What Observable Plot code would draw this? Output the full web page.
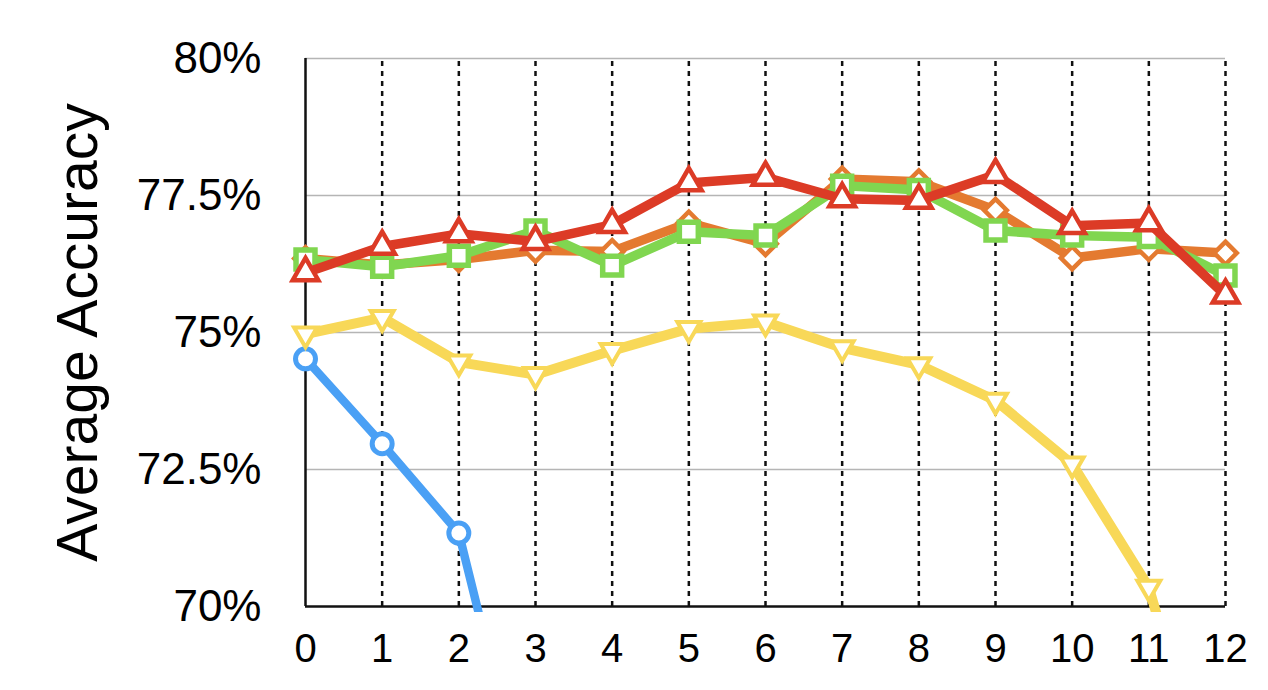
<!DOCTYPE html>
<html>
<head>
<meta charset="utf-8">
<script src="https://cdn.jsdelivr.net/npm/d3@7"></script>
<script src="https://cdn.jsdelivr.net/npm/@observablehq/plot@0.6"></script>
<style>
  html, body { margin: 0; padding: 0; background: #fff; }
  #chart { width: 1268px; height: 690px; }
</style>
</head>
<body>
<div id="chart"></div>
<script>
const steps = [0, 1, 2, 3, 4, 5, 6, 7, 8, 9, 10, 11, 12];
const blueValues = [74.52, 72.97, 71.34, 65.7];
const yellowValues = [74.97, 75.27, 74.46, 74.23, 74.67, 75.07, 75.19, 74.72, 74.41, 73.76, 72.6, 70.35, 65.5];
const orangeValues = [76.35, 76.23, 76.33, 76.5, 76.48, 77.0, 76.62, 77.8, 77.75, 77.23, 76.36, 76.53, 76.45];
const greenValues = [76.33, 76.2, 76.4, 76.86, 76.22, 76.84, 76.77, 77.68, 77.6, 76.86, 76.77, 76.74, 76.04];
const redValues = [76.09, 76.57, 76.8, 76.66, 76.97, 77.73, 77.83, 77.44, 77.41, 77.88, 76.95, 77.0, 75.68];

const yTicks = [70, 72.5, 75, 77.5, 80];
const yTickLabels = ["70%", "72.5%", "75%", "77.5%", "80%"];
const gridValues = [72.5, 75, 77.5, 80];
const xTicks = steps;
const yLabel = "Average Accuracy";

const series = [
  {name: "blue", values: blueValues, color: "#4aa0f5", width: 8.5, symbol: "circle", r: 10, rotate: 0, sw: 5},
  {name: "yellow", values: yellowValues, color: "#f8d858", width: 10, symbol: "triangle", r: 8.5, rotate: 180, sw: 4},
  {name: "orange", values: orangeValues, color: "#e47a30", width: 9.5, symbol: "square", r: 9, rotate: 45, sw: 4.5},
  {name: "green", values: greenValues, color: "#80d650", width: 9.5, symbol: "square", r: 10.7, rotate: 0, sw: 5.5},
  {name: "red", values: redValues, color: "#dc3b26", width: 9.5, symbol: "triangle", r: 9.5, rotate: 0, sw: 4.5}
];

const seriesMarks = series.flatMap(s => {
  const data = s.values.map((v, i) => ({x: steps[i], y: v}));
  return [
    Plot.line(data, {x: "x", y: "y", stroke: s.color, strokeWidth: s.width, strokeLinejoin: "round", clip: true}),
    Plot.dot(data.filter(d => d.y >= 70), {x: "x", y: "y", symbol: s.symbol, r: s.r, rotate: s.rotate, fill: "white", stroke: s.color, strokeWidth: s.sw})
  ];
});

const chart = Plot.plot({
  width: 1268,
  height: 690,
  marginLeft: 305,
  marginRight: 43,
  marginTop: 58,
  marginBottom: 78,
  style: {fontFamily: "'Liberation Sans', Arial, sans-serif", color: "#000", background: "#fff"},
  x: {domain: [0, 12], axis: null},
  y: {domain: [69.89, 80], axis: null},
  marks: [
    Plot.ruleY(gridValues, {stroke: "#b5b5b5", strokeWidth: 1.5}),
    Plot.ruleX(xTicks.filter(d => d > 0), {y1: 70, y2: 80, stroke: "#111", strokeWidth: 2.5, strokeDasharray: "5,5"}),
    Plot.ruleX([0], {y1: 70, y2: 80, stroke: "#111", strokeWidth: 2.5}),
    Plot.ruleY([70], {stroke: "#111", strokeWidth: 2.5}),
    Plot.text(yTicks, {x: 0, y: d => d, text: (d, i) => yTickLabels[i], textAnchor: "end", dx: -44, fontSize: 44, fill: "#000"}),
    Plot.text(xTicks, {x: d => d, y: 70, text: d => String(d), dy: 43, fontSize: 40, fill: "#000"}),
    Plot.text([yLabel], {frameAnchor: "left", textAnchor: "middle", rotate: -90, dx: -227, dy: -3, fontSize: 57, fill: "#000"}),
    ...seriesMarks
  ]
});
document.getElementById("chart").appendChild(chart);
</script>
</body>
</html>
